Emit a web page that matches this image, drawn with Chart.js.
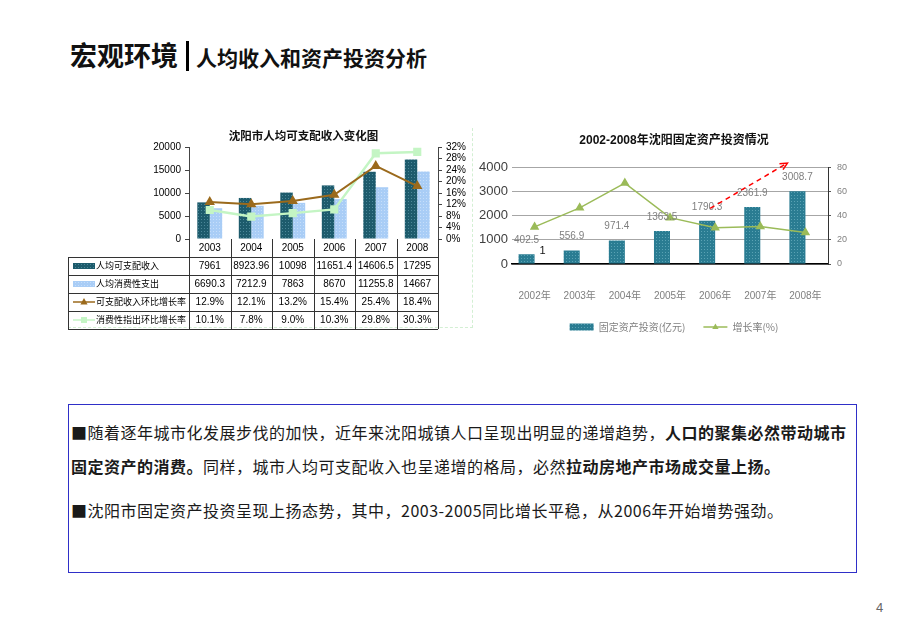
<!DOCTYPE html>
<html>
<head>
<meta charset="utf-8">
<script src="https://cdn.jsdelivr.net/npm/chart.js@4.4.0/dist/chart.umd.min.js"></script>
<style>
body { margin: 0; background: #fff; }
#page { position: relative; width: 920px; height: 637px; overflow: hidden; font-family: "Noto Sans CJK SC", sans-serif; color: #111; }
.abs { position: absolute; white-space: nowrap; }
.txt { left: 71px; font-size: 16px; line-height: 20px; letter-spacing: 0.5px; color: #1a1a1a; }
.txt b { font-weight: 700; }
</style>
</head>
<body>
<div id="page">
  <div class="abs" style="left:70px;top:39px;font-size:27px;line-height:32px;font-weight:700;">宏观环境</div>
  <div class="abs" style="left:186px;top:41px;width:3px;height:30px;background:#000;"></div>
  <div class="abs" style="left:196px;top:44px;font-size:21px;line-height:26px;font-weight:700;">人均收入和资产投资分析</div>

  <div class="abs" style="left:68px;top:128px;width:404px;height:199px;border-right:1px dashed #d3efd3;border-bottom:1px dashed #d3efd3;"></div>
  <canvas id="incomeChart" class="abs" width="410" height="206" style="left:68px;top:125px;"></canvas>
  <canvas id="investChart" class="abs" width="392" height="220" style="left:478px;top:125px;"></canvas>

  <div class="abs" style="left:68px;top:404px;width:789px;height:169px;box-sizing:border-box;border:1.5px solid #2f2fc8;"></div>
  <div class="abs txt" style="top:422px;">■随着逐年城市化发展步伐的加快，近年来沈阳城镇人口呈现出明显的递增趋势，<b>人口的聚集必然带动城市</b></div>
  <div class="abs txt" style="top:456px;"><b>固定资产的消费。</b>同样，城市人均可支配收入也呈递增的格局，必然<b>拉动房地产市场成交量上扬。</b></div>
  <div class="abs txt" style="top:500px;">■沈阳市固定资产投资呈现上扬态势，其中，2003-2005同比增长平稳，从2006年开始增势强劲。</div>

  <div class="abs" style="left:876px;top:600px;font-size:13px;color:#666;font-family:'Liberation Sans';">4</div>
</div>
<script>
// left chart data
const incomeTitle = '沈阳市人均可支配收入变化图';
const years = ['2003', '2004', '2005', '2006', '2007', '2008'];
const incomeValues = [7961, 8923.96, 10098, 11651.4, 14606.5, 17295];
const spendValues = [6690.3, 7212.9, 7863, 8670, 11255.8, 14667];
const incomeGrowth = [12.9, 12.1, 13.2, 15.4, 25.4, 18.4];
const spendGrowth = [10.1, 7.8, 9.0, 10.3, 29.8, 30.3];
const rowLabels = ['人均可支配收入', '人均消费性支出', '可支配收入环比增长率', '消费性指出环比增长率'];
const incomeTicks = [0, 5000, 10000, 15000, 20000];
const rateTicks = [0, 4, 8, 12, 16, 20, 24, 28, 32];

// right chart data
const investTitle = '2002-2008年沈阳固定资产投资情况';
const investYears = ['2002年', '2003年', '2004年', '2005年', '2006年', '2007年', '2008年'];
const investValues = [402.5, 556.9, 971.4, 1363.5, 1790.3, 2361.9, 3008.7];
const investGrowth = [30.7, 46.5, 67, 38.4, 30.1, 31, 26];
const investTicks = [0, 1000, 2000, 3000, 4000];
const growthTicks = [0, 20, 40, 60, 80];

Chart.defaults.font.family = '"Liberation Sans", "Noto Sans CJK SC", sans-serif';

function dotFill(base, dot) {
  const c = document.createElement('canvas');
  c.width = 3; c.height = 3;
  const g = c.getContext('2d');
  g.fillStyle = base; g.fillRect(0, 0, 3, 3);
  g.fillStyle = dot; g.fillRect(1, 1, 1, 1);
  return g.createPattern(c, 'repeat');
}

function triangle(ctx, x, y, r, color) {
  ctx.fillStyle = color;
  ctx.beginPath();
  ctx.moveTo(x, y - r);
  ctx.lineTo(x + r * 0.9, y + r * 0.6);
  ctx.lineTo(x - r * 0.9, y + r * 0.6);
  ctx.closePath();
  ctx.fill();
}

const plain = v => String(v);
const darkFill = dotFill('#1d5b6c', '#4b8798');
const lightFill = dotFill('#a9cdf6', '#c6defa');
const tealFill = dotFill('#2a7c92', '#5aa2b4');
const brown = '#9b6a1c';
const mint = '#c4f5c4';
const olive = '#9bbb59';

// data table under the left chart, drawn on the x scale columns
const incomeTable = {
  id: 'incomeTable',
  afterDraw(chart) {
    const ctx = chart.ctx, a = chart.chartArea;
    const n = years.length, w = (a.right - a.left) / n, rowH = 18;
    const bottom = a.bottom + rowH * 5;
    const px = v => Math.round(v) + 0.5;
    ctx.save();
    ctx.fillStyle = '#111';
    ctx.font = 'bold 11.5px "Noto Sans CJK SC"';
    ctx.textAlign = 'center';
    ctx.textBaseline = 'middle';
    ctx.fillText(incomeTitle, a.left + (a.right - a.left) * 0.46, 11);

    ctx.strokeStyle = '#333';
    ctx.lineWidth = 1;
    ctx.beginPath();
    for (let i = 0; i <= n; i++) {
      ctx.moveTo(px(a.left + i * w), a.bottom);
      ctx.lineTo(px(a.left + i * w), bottom);
    }
    ctx.moveTo(px(0), a.bottom + rowH);
    ctx.lineTo(px(0), bottom);
    for (let r = 1; r <= 5; r++) {
      const y = px(a.bottom + r * rowH);
      ctx.moveTo(0, y);
      ctx.lineTo(a.right, y);
    }
    ctx.stroke();

    ctx.fillStyle = '#000';
    ctx.font = '10px "Liberation Sans"';
    years.forEach((yr, i) => ctx.fillText(yr, a.left + (i + 0.5) * w, a.bottom + 9));

    const rows = [
      incomeValues.map(String),
      spendValues.map(String),
      incomeGrowth.map(v => v.toFixed(1) + '%'),
      spendGrowth.map(v => v.toFixed(1) + '%')
    ];
    rows.forEach((vals, r) => {
      const yc = a.bottom + (r + 1) * rowH + 9;
      if (r === 0 || r === 1) {
        ctx.fillStyle = r === 0 ? darkFill : lightFill;
        ctx.fillRect(5, yc - 3, 22, 6);
      } else {
        const c = r === 2 ? brown : mint;
        ctx.strokeStyle = c;
        ctx.lineWidth = 1.5;
        ctx.beginPath(); ctx.moveTo(5, yc); ctx.lineTo(27, yc); ctx.stroke();
        if (r === 2) triangle(ctx, 16, yc, 4, c);
        else { ctx.fillStyle = c; ctx.fillRect(13, yc - 3, 6, 6); }
      }
      ctx.fillStyle = '#000';
      ctx.textAlign = 'left';
      ctx.font = '9px "Noto Sans CJK SC"';
      ctx.fillText(rowLabels[r], 28, yc);
      ctx.textAlign = 'center';
      ctx.font = '10px "Liberation Sans"';
      vals.forEach((t, i) => ctx.fillText(t, a.left + (i + 0.5) * w, yc));
    });
    ctx.restore();
  }
};

new Chart(document.getElementById('incomeChart').getContext('2d'), {
  data: {
    labels: years,
    datasets: [{
      type: 'line',
      label: rowLabels[2],
      data: incomeGrowth,
      yAxisID: 'y1',
      borderColor: brown,
      backgroundColor: brown,
      borderWidth: 2,
      pointStyle: 'triangle',
      pointRadius: 4,
      order: 0
    }, {
      type: 'line',
      label: rowLabels[3],
      data: spendGrowth,
      yAxisID: 'y1',
      borderColor: mint,
      backgroundColor: mint,
      borderWidth: 2.5,
      pointStyle: 'rect',
      pointRadius: 4,
      order: 0
    }, {
      type: 'bar',
      label: rowLabels[0],
      data: incomeValues,
      yAxisID: 'y',
      backgroundColor: darkFill,
      categoryPercentage: 0.6,
      barPercentage: 1,
      order: 1
    }, {
      type: 'bar',
      label: rowLabels[1],
      data: spendValues,
      yAxisID: 'y',
      backgroundColor: lightFill,
      categoryPercentage: 0.6,
      barPercentage: 1,
      order: 1
    }]
  },
  options: {
    responsive: false,
    animation: false,
    devicePixelRatio: 1,
    layout: { padding: { top: 22 } },
    plugins: { legend: { display: false }, tooltip: { enabled: false } },
    scales: {
      x: {
        grid: { display: false },
        border: { display: false },
        ticks: { display: false },
        afterFit(s) { s.height = 92; }
      },
      y: {
        position: 'left',
        min: 0, max: 20000,
        afterBuildTicks(s) { s.ticks = incomeTicks.map(v => ({ value: v })); },
        grid: { drawOnChartArea: false, tickLength: 4, color: '#444' },
        border: { color: '#444' },
        ticks: { font: { size: 10 }, color: '#000', padding: 4, autoSkip: false, callback: plain },
        afterFit(s) { s.width = 121; }
      },
      y1: {
        position: 'right',
        min: 0, max: 32,
        afterBuildTicks(s) { s.ticks = rateTicks.map(v => ({ value: v })); },
        grid: { drawOnChartArea: false, tickLength: 4, color: '#444' },
        border: { color: '#444' },
        ticks: { font: { size: 10 }, color: '#000', padding: 4, autoSkip: false, callback: v => v + '%' },
        afterFit(s) { s.width = 40; }
      }
    }
  },
  plugins: [incomeTable]
});

// value labels, arrow and legend marker for the right chart
const investMarks = {
  id: 'investMarks',
  afterDatasetsDraw(chart) {
    const ctx = chart.ctx, x = chart.scales.x, y = chart.scales.y;
    const bars = chart.getDatasetMeta(0).data;
    ctx.save();
    ctx.font = '10px "Liberation Sans"';
    ctx.fillStyle = '#7f7f7f';
    ctx.textAlign = 'center';
    ctx.textBaseline = 'middle';
    bars.forEach((b, i) => ctx.fillText(String(investValues[i]), b.x, b.y - 14));
    ctx.fillStyle = '#111';
    ctx.font = '11px "Liberation Sans"';
    ctx.fillText('1', bars[0].x + 16, y.getPixelForValue(550));

    const x0 = x.getPixelForValue(4) - 5, y0 = y.getPixelForValue(2300);
    const x1 = x.getPixelForValue(6) - 18, y1 = y.getPixelForValue(4180);
    ctx.strokeStyle = '#ff0000';
    ctx.lineWidth = 1.5;
    ctx.setLineDash([5, 4]);
    ctx.beginPath(); ctx.moveTo(x0, y0); ctx.lineTo(x1, y1); ctx.stroke();
    ctx.setLineDash([]);
    const ang = Math.atan2(y1 - y0, x1 - x0);
    ctx.beginPath();
    ctx.moveTo(x1 - 8 * Math.cos(ang - 0.45), y1 - 8 * Math.sin(ang - 0.45));
    ctx.lineTo(x1, y1);
    ctx.lineTo(x1 - 8 * Math.cos(ang + 0.45), y1 - 8 * Math.sin(ang + 0.45));
    ctx.stroke();
    ctx.restore();
  },
  afterDraw(chart) {
    const hb = chart.legend.legendHitBoxes[1];
    if (!hb) return;
    chart.ctx.save();
    triangle(chart.ctx, hb.left + 12, hb.top + hb.height / 2, 3.5, olive);
    chart.ctx.restore();
  }
};

new Chart(document.getElementById('investChart').getContext('2d'), {
  data: {
    labels: investYears,
    datasets: [{
      type: 'bar',
      label: '固定资产投资(亿元)',
      data: investValues,
      yAxisID: 'y',
      backgroundColor: tealFill,
      categoryPercentage: 0.71,
      barPercentage: 1,
      order: 1
    }, {
      type: 'line',
      label: '增长率(%)',
      data: investGrowth,
      yAxisID: 'y1',
      borderColor: olive,
      backgroundColor: olive,
      borderWidth: 1.5,
      pointStyle: 'triangle',
      pointRadius: 4,
      order: 0
    }, {
      type: 'bar',
      label: '',
      data: investValues.map(() => null),
      yAxisID: 'y',
      categoryPercentage: 0.71,
      barPercentage: 1,
      order: 2
    }]
  },
  options: {
    responsive: false,
    animation: false,
    devicePixelRatio: 1,
    layout: { padding: { bottom: 3 } },
    plugins: {
      tooltip: { enabled: false },
      title: {
        display: true,
        text: investTitle,
        color: '#111',
        font: { size: 12, weight: 'bold', family: '"Liberation Sans", "Noto Sans CJK SC"' },
        padding: { top: 8, bottom: 20 }
      },
      legend: {
        position: 'bottom',
        labels: {
          usePointStyle: true,
          pointStyleWidth: 24,
          boxHeight: 7,
          padding: 18,
          color: '#7f7f7f',
          font: { size: 10, family: '"Noto Sans CJK SC"' },
          sort: (a, b) => a.datasetIndex - b.datasetIndex,
          generateLabels(chart) {
            const items = Chart.defaults.plugins.legend.labels.generateLabels(chart);
            return items.filter(it => it.text).map(it => {
              it.pointStyle = it.datasetIndex === 0 ? 'rect' : 'line';
              return it;
            });
          }
        }
      }
    },
    scales: {
      x: {
        grid: { display: false },
        border: { color: '#000', width: 1.5 },
        ticks: { color: '#7f7f7f', font: { size: 10 }, padding: 18 },
        afterFit(s) { s.height = 40; }
      },
      y: {
        position: 'left',
        min: 0, max: 4000,
        afterBuildTicks(s) { s.ticks = investTicks.map(v => ({ value: v })); },
        grid: { color: '#a6a6a6', drawTicks: false },
        border: { display: false },
        ticks: { color: '#404040', font: { size: 13 }, padding: 4, callback: plain },
        afterFit(s) { s.width = 34; }
      },
      y1: {
        position: 'right',
        min: 0, max: 80,
        afterBuildTicks(s) { s.ticks = growthTicks.map(v => ({ value: v })); },
        grid: { drawOnChartArea: false, tickLength: 3, color: '#555' },
        border: { color: '#333' },
        ticks: { color: '#808080', font: { size: 9 }, padding: 6, callback: plain },
        afterFit(s) { s.width = 42; }
      }
    }
  },
  plugins: [investMarks]
});
</script>
</body>
</html>
